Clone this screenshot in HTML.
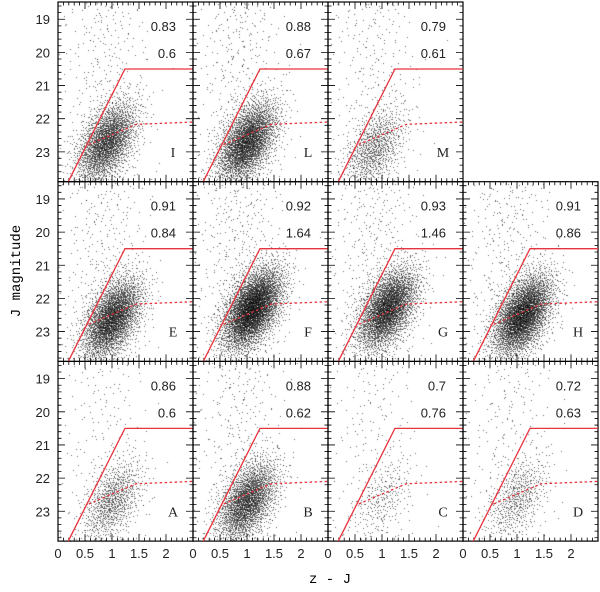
<!DOCTYPE html>
<html><head><meta charset="utf-8">
<style>
html,body{margin:0;padding:0;background:#fff;width:600px;height:592px;overflow:hidden}
#wrap{position:relative;width:600px;height:592px}
canvas,svg{position:absolute;left:0;top:0}
</style></head>
<body>
<div id="wrap">
<canvas id="pts" width="600" height="592"></canvas>
<svg id="svg" width="600" height="592" xmlns="http://www.w3.org/2000/svg"></svg>
</div>
<script>
// panel data
const panelLabels = ['I','L','M','E','F','G','H','A','B','C','D'];
const panelRow    = [0,0,0,1,1,1,1,2,2,2,2];
const panelCol    = [0,1,2,0,1,2,3,0,1,2,3];
const topValues   = ['0.83','0.88','0.79','0.91','0.92','0.93','0.91','0.86','0.88','0.7','0.72'];
const secondValues= ['0.6','0.67','0.61','0.84','1.64','1.46','0.86','0.6','0.62','0.76','0.63'];
const clusterX    = [0.9,1.0,0.85,1.0,1.1,1.1,1.1,1.0,1.0,1.0,1.0];
const clusterY    = [22.7,22.7,22.9,22.6,22.3,22.3,22.5,22.7,22.7,22.6,22.6];
const clusterN    = [2400,3000,900,3000,4200,3200,3600,900,2400,250,550];
const backgroundN = [350,400,300,350,450,400,400,200,350,200,250];
const xTicks = [0,0.5,1,1.5,2];
const yTicks = [19,20,21,22,23];
// selection boundaries
const solidX = [0.19,1.24,2.5];
const solidY = [23.9,20.5,20.5];
const dashX  = [0.57,1.45,2.5];
const dashY  = [22.78,22.17,22.1];

const X0=58, COLW=135, Y0=2, ROWH=179.7;
const XMIN=0, XMAX=2.5, YMIN=18.48, YMAX=23.9;
function px(col,v){return X0+col*COLW+(v-XMIN)/(XMAX-XMIN)*COLW;}
function py(row,v){return Y0+row*ROWH+(v-YMIN)/(YMAX-YMIN)*ROWH;}

const NS='http://www.w3.org/2000/svg';
const svg=document.getElementById('svg');
function mk(tag,attrs,parent){const e=document.createElementNS(NS,tag);for(const k in attrs)e.setAttribute(k,attrs[k]);(parent||svg).appendChild(e);return e;}

// deterministic low-discrepancy sequence
function halton(i,b){let f=1,r=0;while(i>0){f/=b;r+=f*(i%b);i=Math.floor(i/b);}return r;}

const ctx=document.getElementById('pts').getContext('2d');
ctx.fillStyle='rgba(0,0,0,0.6)';

for(let p=0;p<panelLabels.length;p++){
  const r=panelRow[p], c=panelCol[p];
  const g=mk('g',{});
  
  
  const L=px(c,XMIN), R=px(c,XMAX), T=py(r,YMIN), B=py(r,YMAX);
  ctx.save();ctx.beginPath();ctx.rect(L,T,R-L,B-T);ctx.clip();
  const off=p*7919+11;
  for(let i=1;i<=clusterN[p];i++){
    const u1=Math.max(halton(i+off,2),1e-6), u2=halton(i+off,3);
    const rad=Math.sqrt(-2*Math.log(u1));
    const a=rad*Math.cos(2*Math.PI*u2), b=rad*Math.sin(2*Math.PI*u2);
    const xv=clusterX[p]+0.28*a;
    const yv=clusterY[p]+0.62*(-0.5*a+0.87*b);
    ctx.fillRect(Math.round(px(c,xv)),Math.round(py(r,yv)),1,1);
  }
  for(let i=1;i<=backgroundN[p];i++){
    const u1=Math.max(halton(i+off,5),1e-6), u2=halton(i+off,7);
    const rad=Math.sqrt(-2*Math.log(u1));
    const xv=0.85+0.4*rad*Math.cos(2*Math.PI*u2);
    const yv=18.5+5.4*halton(i+off,11);
    ctx.fillRect(Math.round(px(c,xv)),Math.round(py(r,yv)),1,1);
  }
  ctx.restore();
  const fr=mk('rect',{x:L,y:T,width:R-L,height:B-T,fill:'none',stroke:'#000','stroke-width':1.2},g);
  
  
  let d='';
  for(let k=0;k<=25;k++){const v=k*0.1,x=px(c,v),len=(k%5===0)?7:3.5;
    d+=`M${x},${B}v${-len}M${x},${T}v${len}`;}
  for(let k=0;k<=27;k++){const v=18.6+k*0.2;if(v>YMAX)break;const y=py(r,v);const maj=Math.abs(v-Math.round(v))<0.01;const len=maj?7:3.5;
    d+=`M${L},${y}h${len}M${R},${y}h${-len}`;}
  const tk=mk('path',{d:d,stroke:'#000','stroke-width':0.8,fill:'none'},g);
  
  
  let sp='';solidX.forEach((v,i)=>{sp+=(i?'L':'M')+px(c,v)+','+py(r,solidY[i]);});
  const sl=mk('path',{d:sp,stroke:'#e8323c','stroke-width':1.3,fill:'none'},g);
  
  
  let dp='';dashX.forEach((v,i)=>{dp+=(i?'L':'M')+px(c,v)+','+py(r,dashY[i]);});
  const dl=mk('path',{d:dp,stroke:'#e8323c','stroke-width':1.3,fill:'none','stroke-dasharray':'2.5,2.5'},g);
  
  
  const t1=mk('text',{x:R-17,y:T+29,'text-anchor':'end','font-family':'Liberation Sans, sans-serif','font-size':13,fill:'#222'},g);
  t1.textContent=topValues[p];
  
  
  const t2=mk('text',{x:R-17,y:T+56,'text-anchor':'end','font-family':'Liberation Sans, sans-serif','font-size':13,fill:'#222'},g);
  t2.textContent=secondValues[p];
  
  
  const t3=mk('text',{x:R-20,y:py(r,23)+5,'text-anchor':'middle','font-family':'Liberation Serif, serif','font-size':14,fill:'#222'},g);
  t3.textContent=panelLabels[p];
  
  
}
for(let r=0;r<3;r++){
  yTicks.forEach(v=>{
    const t=mk('text',{x:50,y:py(r,v)+5,'text-anchor':'end','font-family':'Liberation Sans, sans-serif','font-size':13,fill:'#222'});
    t.textContent=String(v);
    
    
  });
}
for(let c=0;c<4;c++){
  xTicks.forEach(v=>{
    const t=mk('text',{x:px(c,v),y:558,'text-anchor':'middle','font-family':'Liberation Sans, sans-serif','font-size':13,fill:'#222'});
    t.textContent=String(v);
    
    
  });
}
const xt=mk('text',{x:330,y:583,'text-anchor':'middle','font-family':'Liberation Mono, monospace','font-size':14});
xt.textContent='z - J';


const yt=mk('text',{x:0,y:0,'text-anchor':'middle','font-family':'Liberation Mono, monospace','font-size':14,transform:'translate(20,271) rotate(-90)'});
yt.textContent='J magnitude';


</script>
</body></html>
